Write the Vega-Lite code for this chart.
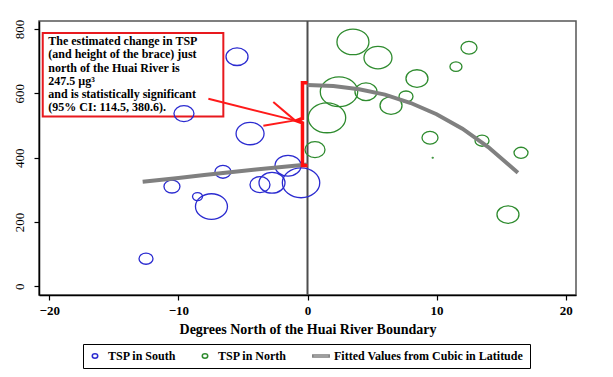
{
  "$schema": "https://vega.github.io/schema/vega-lite/v6.json",
  "width": 537,
  "height": 274,
  "autosize": {"type": "none"},
  "padding": {"left": 39, "top": 21, "right": 37, "bottom": 82},
  "background": "white",
  "config": {
    "view": {"stroke": "#555555", "strokeWidth": 1.5},
    "axis": {
      "labelFont": "Liberation Serif",
      "titleFont": "Liberation Serif",
      "labelColor": "black",
      "titleColor": "black",
      "domainColor": "black",
      "tickColor": "black",
      "domainWidth": 1.5,
      "tickWidth": 1.2,
      "tickSize": 5,
      "grid": false
    }
  },
  "datasets": {
    "points": [
      {"x": -5.46, "y": 714, "w": 121, "group": "TSP in South"},
      {"x": -9.57, "y": 537, "w": 100, "group": "TSP in South"},
      {"x": -4.45, "y": 475, "w": 196, "group": "TSP in South"},
      {"x": -10.5, "y": 310, "w": 64, "group": "TSP in South"},
      {"x": -6.55, "y": 356, "w": 64, "group": "TSP in South"},
      {"x": -8.52, "y": 279, "w": 25, "group": "TSP in South"},
      {"x": -7.44, "y": 248, "w": 256, "group": "TSP in South"},
      {"x": -12.51, "y": 86, "w": 49, "group": "TSP in South"},
      {"x": -3.68, "y": 316, "w": 100, "group": "TSP in South"},
      {"x": -2.75, "y": 322, "w": 169, "group": "TSP in South"},
      {"x": -1.51, "y": 375, "w": 169, "group": "TSP in South"},
      {"x": -0.5, "y": 322, "w": 350, "group": "TSP in South"},
      {"x": 3.52, "y": 760, "w": 256, "group": "TSP in North"},
      {"x": 5.46, "y": 711, "w": 196, "group": "TSP in North"},
      {"x": 8.48, "y": 646, "w": 121, "group": "TSP in North"},
      {"x": 2.44, "y": 605, "w": 350, "group": "TSP in North"},
      {"x": 4.53, "y": 605, "w": 121, "group": "TSP in North"},
      {"x": 7.63, "y": 590, "w": 49, "group": "TSP in North"},
      {"x": 6.47, "y": 562, "w": 121, "group": "TSP in North"},
      {"x": 1.51, "y": 524, "w": 350, "group": "TSP in North"},
      {"x": 9.49, "y": 462, "w": 64, "group": "TSP in North"},
      {"x": 0.58, "y": 425, "w": 100, "group": "TSP in North"},
      {"x": 12.51, "y": 742, "w": 64, "group": "TSP in North"},
      {"x": 11.5, "y": 683, "w": 36, "group": "TSP in North"},
      {"x": 13.52, "y": 453, "w": 49, "group": "TSP in North"},
      {"x": 16.54, "y": 415, "w": 49, "group": "TSP in North"},
      {"x": 15.53, "y": 223, "w": 121, "group": "TSP in North"},
      {"x": 9.7, "y": 400, "w": 0.25, "group": "TSP in North"}
    ],
    "fit": [
      {"x": -12.77, "y": 325, "side": "south"},
      {"x": -10, "y": 337, "side": "south"},
      {"x": -8, "y": 346, "side": "south"},
      {"x": -6, "y": 355, "side": "south"},
      {"x": -4, "y": 363, "side": "south"},
      {"x": -2, "y": 371, "side": "south"},
      {"x": 0, "y": 379, "side": "south"},
      {"x": 0, "y": 626, "side": "north"},
      {"x": 2, "y": 623, "side": "north"},
      {"x": 4, "y": 613, "side": "north"},
      {"x": 6, "y": 596, "side": "north"},
      {"x": 8, "y": 570, "side": "north"},
      {"x": 10, "y": 535, "side": "north"},
      {"x": 12, "y": 490, "side": "north"},
      {"x": 14, "y": 433, "side": "north"},
      {"x": 16.3, "y": 353, "side": "north"}
    ],
    "brace": [
      {"x": 0, "y": 633, "o": 1},
      {"x": -0.39, "y": 633, "o": 2},
      {"x": -0.39, "y": 522, "o": 3},
      {"x": -0.85, "y": 515, "o": 4},
      {"x": -0.39, "y": 508, "o": 5},
      {"x": -0.39, "y": 376, "o": 6},
      {"x": 0, "y": 376, "o": 7}
    ],
    "arrow": [
      {"x": -7.68, "y": 583, "x2": -0.97, "y2": 516},
      {"x": -2.65, "y": 573, "x2": -0.97, "y2": 516},
      {"x": -3.42, "y": 499, "x2": -0.97, "y2": 516}
    ],
    "box": [
      {"x": -20.51, "y": 787.6, "x2": -6.52, "y2": 528.4}
    ],
    "note": [
      {"x": -20.08, "y": 778, "label": "The estimated change in TSP\n(and height of the brace) just\nnorth of the Huai River is\n247.5 µg³\nand is statistically significant\n(95% CI: 114.5, 380.6)."}
    ],
    "zero": [
      {"x": 0, "y": -27, "y2": 825}
    ]
  },
  "encoding": {
    "x": {
      "field": "x",
      "type": "quantitative",
      "scale": {"domain": [-20.8, 20.8], "nice": false, "zero": false},
      "axis": {
        "values": [-20, -10, 0, 10, 20],
        "title": "Degrees North of the Huai River Boundary",
        "labelFontSize": 13,
        "labelFontWeight": "bold",
        "labelPadding": 4,
        "titleFontSize": 14,
        "titleFontWeight": "bold",
        "titlePadding": 5
      }
    },
    "y": {
      "field": "y",
      "type": "quantitative",
      "scale": {"domain": [-27, 825], "nice": false, "zero": false},
      "axis": {
        "values": [0, 200, 400, 600, 800],
        "title": null,
        "labelAngle": -90,
        "labelAlign": "center",
        "labelBaseline": "bottom",
        "labelFontSize": 13,
        "labelPadding": 8
      }
    }
  },
  "layer": [
    {
      "data": {"name": "zero"},
      "mark": {"type": "rule", "color": "#4d4d4d", "strokeWidth": 2},
      "encoding": {"y2": {"field": "y2"}}
    },
    {
      "data": {"name": "box"},
      "mark": {"type": "rect", "fill": null, "fillOpacity": 0, "stroke": "#e8191e", "strokeWidth": 2},
      "encoding": {"x2": {"field": "x2"}, "y2": {"field": "y2"}}
    },
    {
      "data": {"name": "points"},
      "mark": {"type": "point", "filled": false, "strokeWidth": 1.3, "opacity": 1},
      "encoding": {
        "color": {
          "field": "group",
          "type": "nominal",
          "scale": {
            "domain": ["TSP in South", "TSP in North", "Fitted Values from Cubic in Latitude"],
            "range": ["#2b2bd0", "#2e8b2e", "#808080"]
          },
          "legend": {
            "title": null,
            "orient": "none",
            "legendX": 44,
            "legendY": 323,
            "direction": "horizontal",
            "padding": 6,
            "strokeColor": "black",
            "fillColor": "white",
            "labelFont": "Liberation Serif",
            "labelFontSize": 12,
            "labelFontWeight": "bold",
            "labelColor": "black",
            "labelLimit": 0,
            "symbolSize": 30,
            "symbolStrokeWidth": 1.5,
            "columnPadding": 22,
            "labelOffset": 7
          }
        },
        "shape": {
          "field": "group",
          "type": "nominal",
          "scale": {
            "domain": ["TSP in South", "TSP in North", "Fitted Values from Cubic in Latitude"],
            "range": [
              "M1,0C1,0.442 0.552,0.8 0,0.8C-0.552,0.8 -1,0.442 -1,0C-1,-0.442 -0.552,-0.8 0,-0.8C0.552,-0.8 1,-0.442 1,0Z",
              "M1,0C1,0.442 0.552,0.8 0,0.8C-0.552,0.8 -1,0.442 -1,0C-1,-0.442 -0.552,-0.8 0,-0.8C0.552,-0.8 1,-0.442 1,0Z",
              "M-3,-0.32L3,-0.32L3,0.32L-3,0.32Z"
            ]
          },
          "legend": {
            "title": null,
            "orient": "none",
            "legendX": 44,
            "legendY": 323,
            "direction": "horizontal",
            "padding": 6,
            "strokeColor": "black",
            "fillColor": "white",
            "labelFont": "Liberation Serif",
            "labelFontSize": 12,
            "labelFontWeight": "bold",
            "labelColor": "black",
            "labelLimit": 0,
            "symbolSize": 30,
            "symbolStrokeWidth": 1.5,
            "columnPadding": 22,
            "labelOffset": 7
          }
        },
        "size": {
          "field": "w",
          "type": "quantitative",
          "scale": {"type": "linear", "domain": [0, 400], "range": [0, 1600], "zero": true},
          "legend": null
        }
      }
    },
    {
      "data": {"name": "fit"},
      "mark": {"type": "line", "color": "#808080", "strokeWidth": 4, "strokeCap": "butt"},
      "encoding": {"detail": {"field": "side"}}
    },
    {
      "data": {"name": "brace"},
      "mark": {"type": "line", "color": "#ff1010", "strokeWidth": 3.5, "strokeJoin": "miter"},
      "encoding": {"order": {"field": "o"}}
    },
    {
      "data": {"name": "arrow"},
      "mark": {"type": "rule", "color": "#ff1a1a", "strokeWidth": 2},
      "encoding": {"x2": {"field": "x2"}, "y2": {"field": "y2"}}
    },
    {
      "data": {"name": "note"},
      "mark": {
        "type": "text",
        "align": "left",
        "baseline": "top",
        "font": "Liberation Serif",
        "fontSize": 12,
        "fontWeight": "bold",
        "lineBreak": "\n",
        "lineHeight": 13.2,
        "color": "black"
      },
      "encoding": {"text": {"field": "label"}}
    }
  ]
}
